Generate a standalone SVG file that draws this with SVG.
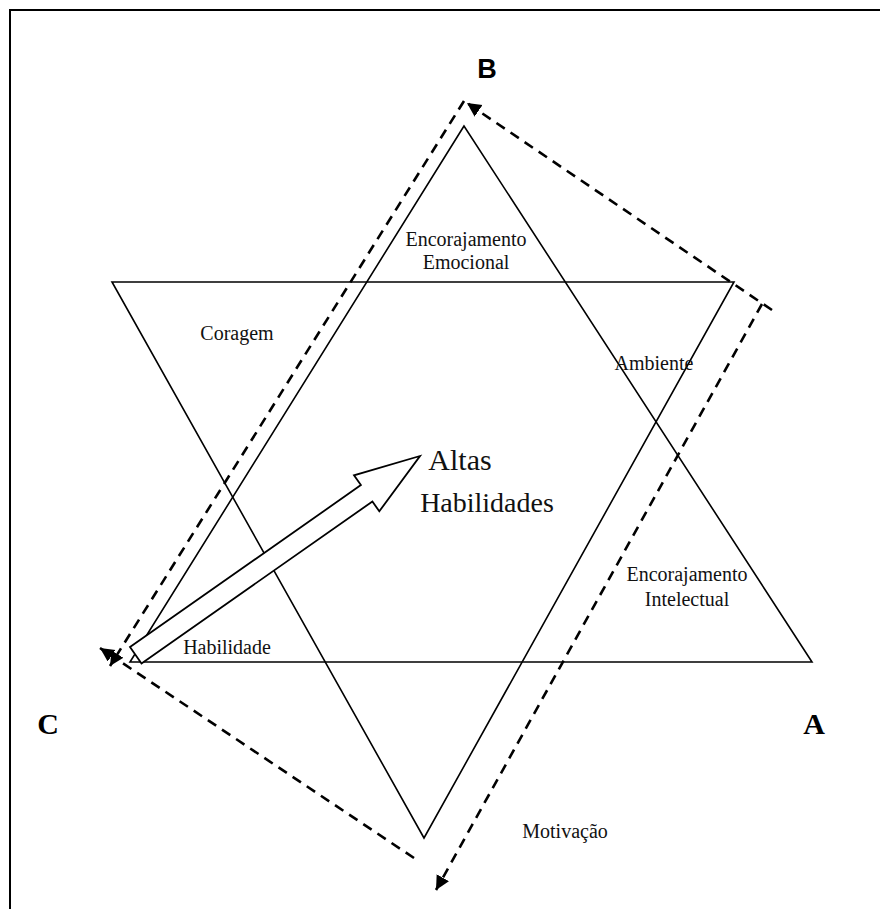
<svg xmlns="http://www.w3.org/2000/svg" width="880" height="909" viewBox="0 0 880 909">
<style>
.tri{fill:none;stroke:#000;stroke-width:1.6;stroke-linejoin:miter}
.dash{fill:none;stroke:#000;stroke-width:2.6;stroke-dasharray:10,7}
.lbl{font-family:"Liberation Serif","Times New Roman",serif;font-size:20px;fill:#111;text-anchor:middle}
.big{font-family:"Liberation Serif","Times New Roman",serif;fill:#111;text-anchor:middle}
.corner{font-family:"Liberation Serif","DejaVu Serif",serif;font-weight:bold;font-size:30px;fill:#000;text-anchor:middle}
</style>
<defs>
<marker id="ah" markerUnits="userSpaceOnUse" markerWidth="16" markerHeight="16" refX="14" refY="7" orient="auto">
<path d="M0,0 L14,7 L0,14 Z" fill="#000"/>
</marker>
</defs>
<rect width="880" height="909" fill="#fff"/>
<path d="M10,920 V10 H890" fill="none" stroke="#000" stroke-width="2"/>

<g id="triangle-up"><polygon class="tri" points="464,126 130,662 812,662"/></g>
<g id="triangle-down"><polygon class="tri" points="112,282 734,282 424,838"/></g>

<g id="connectors">
<line class="dash" x1="772" y1="310" x2="467" y2="103" marker-end="url(#ah)"/>
<line class="dash" x1="464" y1="101" x2="110" y2="666" marker-end="url(#ah)"/>
<line class="dash" x1="414" y1="858" x2="100" y2="648" marker-end="url(#ah)"/>
<line class="dash" x1="762" y1="304" x2="436" y2="890" marker-end="url(#ah)"/>
</g>

<g id="arrow-big">
<polygon fill="#fff" stroke="#000" stroke-width="1.8" stroke-linejoin="miter" points="130,647 360.9,485.1 354,475.3 420,456 379.3,511.3 372.4,501.5 141.5,663.4"/>
</g>

<g id="label-B"><text x="487" y="78" font-family="Liberation Sans, Arial, sans-serif" font-weight="bold" font-size="27" text-anchor="middle">B</text></g>
<g id="label-C"><text class="corner" x="48" y="734">C</text></g>
<g id="label-A"><text class="corner" x="814" y="734">A</text></g>

<g id="node-emocional"><text class="lbl" x="466" y="246">Encorajamento</text><text class="lbl" x="466" y="269">Emocional</text></g>
<g id="node-coragem"><text class="lbl" x="237" y="340">Coragem</text></g>
<g id="node-ambiente"><text class="lbl" x="654" y="370">Ambiente</text></g>
<g id="node-altas"><text class="big" font-size="30" x="460" y="470">Altas</text><text class="big" font-size="28" x="487" y="512">Habilidades</text></g>
<g id="node-intelectual"><text class="lbl" x="687" y="581">Encorajamento</text><text class="lbl" x="687" y="606">Intelectual</text></g>
<g id="node-habilidade"><text class="lbl" x="227" y="654">Habilidade</text></g>
<g id="node-motivacao"><text class="lbl" x="565" y="838">Motivação</text></g>
</svg>
